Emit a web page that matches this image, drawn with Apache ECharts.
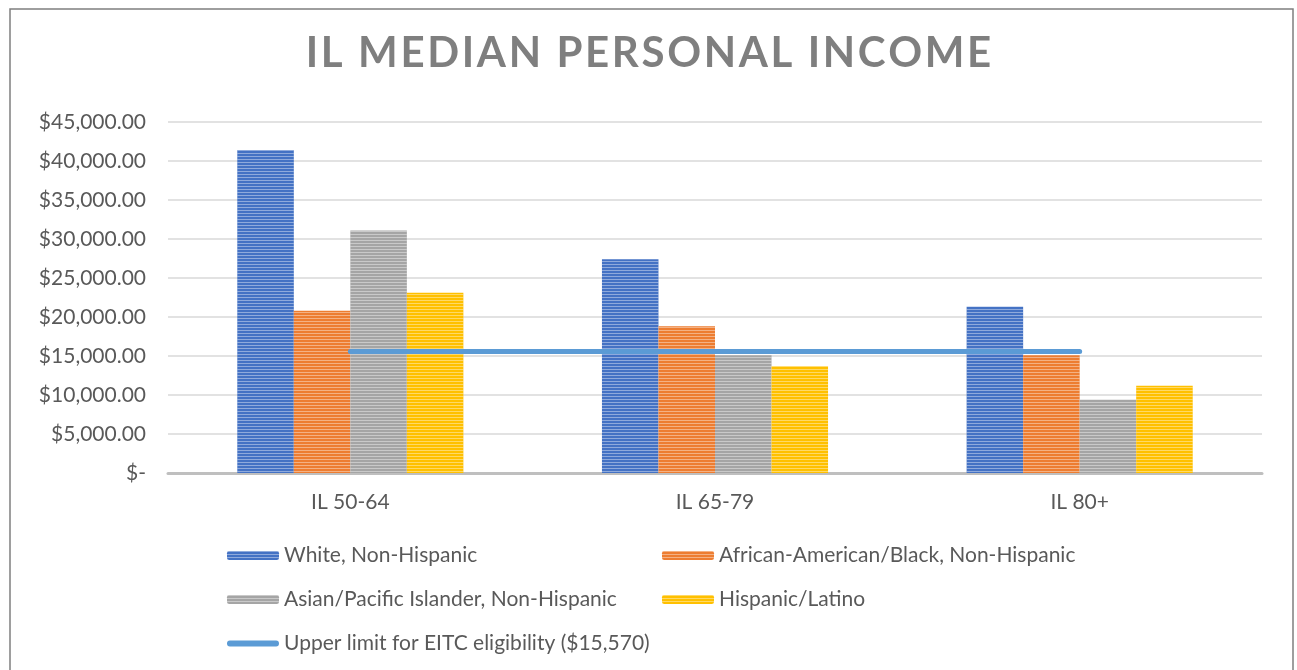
<!DOCTYPE html>
<html>
<head>
<meta charset="utf-8">
<script src="https://cdn.jsdelivr.net/npm/echarts@6/dist/echarts.min.js"></script>
<style>
  html, body { margin: 0; padding: 0; background: #fff; }
  #chart { width: 1297px; height: 670px; }
</style>
</head>
<body>
<div id="chart"></div>
<script>
// data
const categories = ['IL 50-64', 'IL 65-79', 'IL 80+'];
const white = [41400, 27400, 21300];
const black = [20800, 18800, 15100];
const asian = [31100, 15100, 9400];
const hispanic = [23100, 13700, 11200];
const eitcLimit = [15570, 15570, 15570];

const names = [
  'White, Non-Hispanic',
  'African-American/Black, Non-Hispanic',
  'Asian/Pacific Islander, Non-Hispanic',
  'Hispanic/Latino',
  'Upper limit for EITC eligibility ($15,570)'
];
const colors = ['#4472C4', '#ED7D31', '#A5A5A5', '#FFC000', '#5B9BD5'];

const font = 'Lato, "Open Sans", sans-serif';
const textColor = '#595959';

const chart = echarts.init(document.getElementById('chart'));

// spread the title letters a bit (excel uses character spacing)
function spaced(s) {
  return s.split('').join('\u200A');
}

// horizontal stripe texture like the excel fill
function stripes() {
  return {
    symbol: 'rect',
    symbolSize: 1,
    color: 'rgba(255,255,255,0.4)',
    dashArrayX: [1, 0],
    dashArrayY: [1, 2],
    rotation: 0
  };
}

function barSeries(i, data) {
  return {
    name: names[i],
    type: 'bar',
    data: data,
    barGap: '0%',
    barCategoryGap: '38%',
    itemStyle: { color: colors[i], decal: stripes() }
  };
}

function legendAt(item, left, top, h) {
  return {
    data: [item],
    left: left,
    top: top,
    padding: 0,
    itemWidth: 52,
    itemHeight: h || 9,
    itemGap: 6,
    textStyle: { color: textColor, fontSize: 21, fontFamily: font }
  };
}

const option = {
  animation: false,
  color: colors,
  title: {
    text: spaced('IL MEDIAN PERSONAL INCOME'),
    left: 'center',
    top: 27,
    textStyle: { color: '#7F7F7F', fontSize: 42, fontWeight: 'bold', fontFamily: font }
  },
  graphic: [{
    type: 'rect',
    shape: { x: 10, y: 9, width: 1283, height: 700 },
    style: { fill: 'none', stroke: '#7F7F7F', lineWidth: 1.5 },
    silent: true
  }],
  legend: [
    legendAt(names[0], 227, 545),
    legendAt(names[1], 662, 545),
    legendAt(names[2], 227, 589),
    legendAt(names[3], 662, 589),
    legendAt({
      name: names[4],
      icon: 'path://M3,0 H51 A3,3 0 0 1 51,6 H3 A3,3 0 0 1 3,0 Z',
      itemStyle: { color: colors[4] }
    }, 227, 633, 6)
  ],
  grid: { left: 168, right: 35, top: 122, bottom: 197 },
  xAxis: {
    type: 'category',
    data: categories,
    axisLine: { lineStyle: { color: '#BFBFBF', width: 3 } },
    axisTick: { show: false },
    axisLabel: { color: textColor, fontSize: 21, fontFamily: font, margin: 19 }
  },
  yAxis: {
    type: 'value',
    min: 0,
    max: 45000,
    interval: 5000,
    axisLine: { show: false },
    axisTick: { show: false },
    splitLine: { lineStyle: { color: '#D9D9D9', width: 1.5 } },
    axisLabel: {
      color: textColor,
      fontSize: 21,
      fontFamily: font,
      margin: 22,
      formatter: function (v) {
        if (v === 0) return '$-';
        return '$' + v.toLocaleString('en-US', { minimumFractionDigits: 2, maximumFractionDigits: 2 });
      }
    }
  },
  series: [
    barSeries(0, white),
    barSeries(1, black),
    barSeries(2, asian),
    barSeries(3, hispanic),
    {
      name: names[4],
      type: 'line',
      data: eitcLimit,
      symbol: 'none',
      z: 5,
      lineStyle: { color: colors[4], width: 5, cap: 'round' },
      itemStyle: { color: colors[4] }
    }
  ]
};

chart.setOption(option);
</script>
</body>
</html>
